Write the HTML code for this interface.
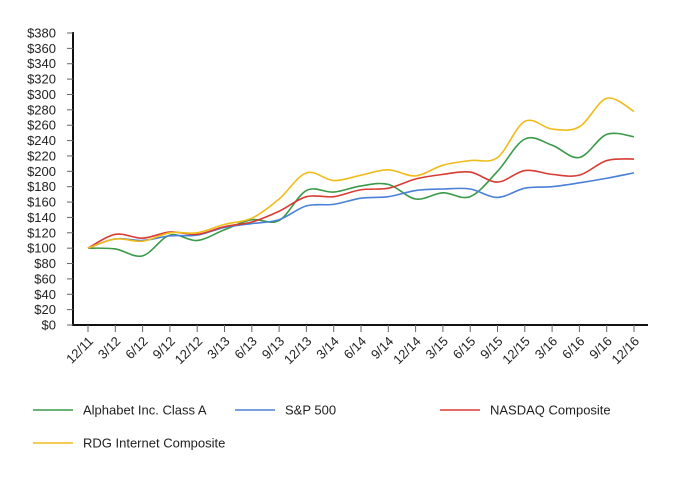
<!DOCTYPE html>
<html><head><meta charset="utf-8"><style>
body{margin:0;background:#fff;}
svg text{font-family:"Liberation Sans",Arial,sans-serif;fill:#222;}
</style></head><body>
<svg width="682" height="480" id="c">
</svg>
<script>
const categories=["12/11","3/12","6/12","9/12","12/12","3/13","6/13","9/13","12/13","3/14","6/14","9/14","12/14","3/15","6/15","9/15","12/15","3/16","6/16","9/16","12/16"];
const alphabet=[100,99,90,117,110,124,137,136,175,173,181,183,164,172,167,200,242,234,218,248,245];
const sp500=[100,112,110,116,117,127,132,137,155,157,165,167,175,177,177,166,178,180,185,191,198];
const nasdaq=[100,118,113,121,118,128,134,148,167,167,176,178,190,196,199,186,201,196,195,214,216];
const rdg=[100,112,109,120,120,131,139,164,198,188,195,202,194,208,214,218,265,255,258,295,278];
const yTicks=[0,20,40,60,80,100,120,140,160,180,200,220,240,260,280,300,320,340,360,380];
const seriesNames=["Alphabet Inc. Class A","S&P 500","NASDAQ Composite","RDG Internet Composite"];
const colors=["#3a9a48","#4a80d8","#d83c34","#f0bc1c"];
const svg=document.getElementById('c');
const NS="http://www.w3.org/2000/svg";
const x0=88,dx=27.3,yBase=325,pxPer=(325-33)/380;
const X=i=>x0+i*dx, Y=v=>yBase-v*pxPer;
function mk(t,a,p){const e=document.createElementNS(NS,t);for(const k in a)e.setAttribute(k,a[k]);(p||svg).appendChild(e);return e;}
const ax=mk('path',{d:`M73,${Y(380)-1}V325H648`,stroke:'#111','stroke-width':2,fill:'none'});


yTicks.forEach(v=>{
  const t=mk('line',{x1:67,x2:73,y1:Y(v),y2:Y(v),stroke:'#666'});
  
  
  const l=mk('text',{x:56,y:Y(v)+4.5,'text-anchor':'end','font-size':13});
  l.textContent='$'+v;
  
  
});
categories.forEach((c,i)=>{
  const t=mk('line',{x1:X(i),x2:X(i),y1:325,y2:332,stroke:'#666'});
  
  
  const l=mk('text',{x:X(i)+6,y:342,'text-anchor':'end','font-size':13,transform:`rotate(-45 ${X(i)+6} 342)`});
  l.textContent=c;
  
  
});
function smooth(vals){
  const p=vals.map((v,i)=>[X(i),Y(v)]);
  let d=`M${p[0][0]},${p[0][1]}`;
  for(let i=0;i<p.length-1;i++){
    const a=p[i-1]||p[i],b=p[i],c=p[i+1],e=p[i+2]||c;
    d+=`C${b[0]+(c[0]-a[0])/6},${b[1]+(c[1]-a[1])/6} ${c[0]-(e[0]-b[0])/6},${c[1]-(e[1]-b[1])/6} ${c[0]},${c[1]}`;
  }
  return d;
}
const data=[alphabet,sp500,nasdaq,rdg];
const lineNames=['alphabet-line','sp500-line','nasdaq-line','rdg-line'];
data.forEach((s,k)=>{
  const p=mk('path',{d:smooth(s),stroke:colors[k],'stroke-width':1.6,fill:'none'});
  
  
});
const legPos=[[33,410],[235,410],[440,410],[33,443]];
seriesNames.forEach((n,k)=>{
  const [lx,ly]=legPos[k];
  const g=mk('g',{});
  
  
  mk('line',{x1:lx,x2:lx+40,y1:ly,y2:ly,stroke:colors[k],'stroke-width':1.6},g);
  const t=mk('text',{x:lx+50,y:ly+4.5,'font-size':13},g);
  t.textContent=n;
});
</script>
</body></html>
